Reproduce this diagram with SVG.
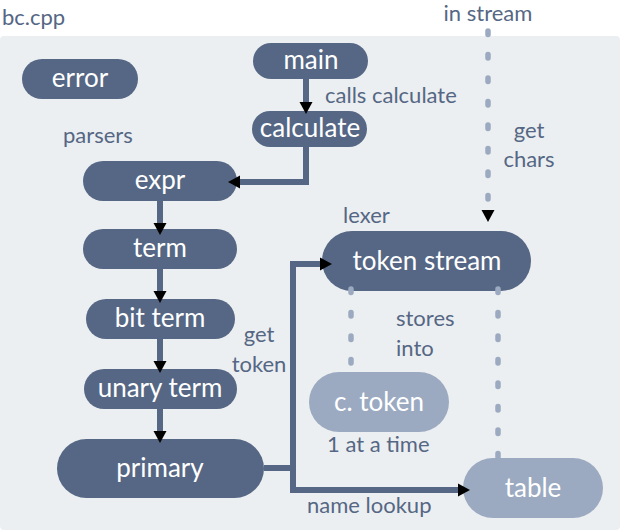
<svg xmlns="http://www.w3.org/2000/svg" width="620" height="530" viewBox="0 0 620 530">
<style>
.bg{fill:#ECEFF1}
.n rect{fill:#556784}
.n.l rect{fill:#9BAAC1}
.n text{fill:#FFFFFF;font-family:Lato,"Open Sans",sans-serif;font-size:26px;text-anchor:middle}
.lb{fill:#556784;font-family:Lato,"Open Sans",sans-serif;font-size:22px}
.c{fill:none;stroke:#556784;stroke-width:6;stroke-linejoin:miter}
.d{fill:none;stroke:#9BAAC1;stroke-width:5.5;stroke-linecap:round;stroke-dasharray:3.5 20}
</style>
<defs>
<marker id="ah" markerUnits="userSpaceOnUse" markerWidth="13" markerHeight="14" refX="0" refY="6.5" orient="auto" viewBox="0 0 13 13">
<path d="M0,0 L12,6.5 L0,13 z" fill="#000000"/>
</marker>
</defs>
<rect class="bg" x="0" y="36" width="620" height="494" rx="4"/>
<g id="labels">
<text class="lb" x="2" y="25">bc.cpp</text>
<text class="lb" x="488" y="21" text-anchor="middle">in stream</text>
<text class="lb" x="325" y="103">calls calculate</text>
<text class="lb" x="63" y="143">parsers</text>
<text class="lb" x="529" y="138" text-anchor="middle">get</text>
<text class="lb" x="529" y="167" text-anchor="middle">chars</text>
<text class="lb" x="343" y="223">lexer</text>
<text class="lb" x="396" y="326">stores</text>
<text class="lb" x="396" y="356">into</text>
<text class="lb" x="259" y="342" text-anchor="middle">get</text>
<text class="lb" x="259" y="372" text-anchor="middle">token</text>
<text class="lb" x="327" y="452">1 at a time</text>
<text class="lb" x="307" y="513">name lookup</text>
</g>
<g id="error" class="n"><rect x="22" y="59" width="116" height="40" rx="20"/><text x="80" y="87">error</text></g>
<g id="main" class="n"><rect x="253" y="43" width="115" height="36" rx="18"/><text x="311" y="69">main</text></g>
<g id="calculate" class="n"><rect x="252" y="111" width="115" height="36" rx="18"/><text x="310" y="137">calculate</text></g>
<g id="expr" class="n"><rect x="83" y="161" width="154" height="40" rx="20"/><text x="160" y="189">expr</text></g>
<g id="term" class="n"><rect x="83" y="229" width="154" height="40" rx="20"/><text x="160" y="257">term</text></g>
<g id="bit-term" class="n"><rect x="86" y="299" width="149" height="40" rx="20"/><text x="160" y="327">bit term</text></g>
<g id="unary-term" class="n"><rect x="84" y="369" width="153" height="40" rx="20"/><text x="160" y="397">unary term</text></g>
<g id="primary" class="n"><rect x="57" y="439" width="207" height="59" rx="29.5"/><text x="160" y="477">primary</text></g>
<g id="token-stream" class="n"><rect x="322" y="231" width="209" height="60" rx="30"/><text x="427" y="270">token stream</text></g>
<g id="c-token" class="n l"><rect x="309" y="372" width="140" height="60" rx="30"/><text x="379" y="411">c. token</text></g>
<g id="table" class="n l"><rect x="463" y="458" width="140" height="60" rx="30"/><text x="533" y="497">table</text></g>
<g id="connectors">
<path class="c" d="M306 79 V102" marker-end="url(#ah)"/>
<path class="c" d="M306 147 V182 H240" marker-end="url(#ah)"/>
<path class="c" d="M160 201 V223" marker-end="url(#ah)"/>
<path class="c" d="M160 269 V291" marker-end="url(#ah)"/>
<path class="c" d="M160 339 V361" marker-end="url(#ah)"/>
<path class="c" d="M160 409 V431" marker-end="url(#ah)"/>
<path class="c" d="M264 468 H293 V264 H320" marker-end="url(#ah)"/>
<path class="c" d="M293 465 V490 H458" marker-end="url(#ah)"/>
<path class="d" d="M488 31 V204"/>
<path d="M481.5 210 L494.5 210 L488 222 z" fill="#000000"/>
<path class="d" d="M351 289 V364"/>
<path class="d" d="M498 289 V460"/>
</g>
</svg>
